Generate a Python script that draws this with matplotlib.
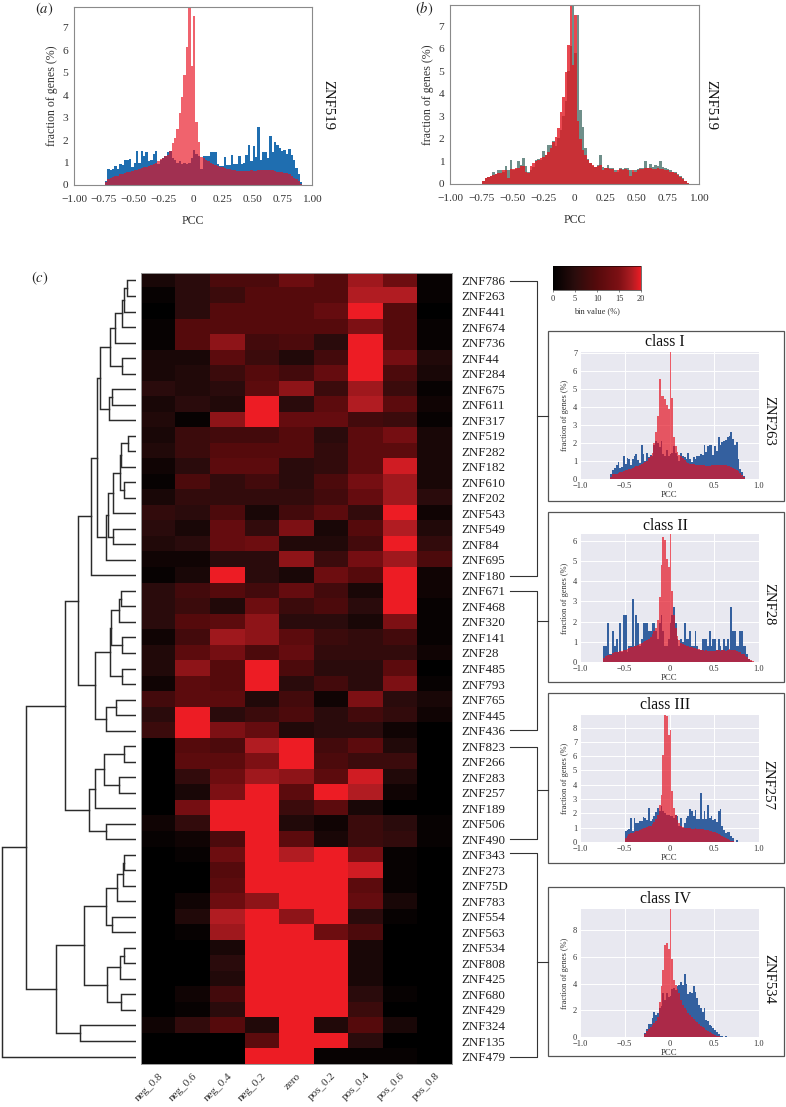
import numpy as np
import matplotlib
matplotlib.use('Agg')
import matplotlib.pyplot as plt
from matplotlib.colors import LinearSegmentedColormap
from matplotlib.patches import Rectangle

plt.rcParams['font.family'] = ['Liberation Serif', 'DejaVu Serif']
plt.rcParams['mathtext.fontset'] = 'stix'

W, H = 786, 1107
BIN = 0.02

genes = ['ZNF786', 'ZNF263', 'ZNF441', 'ZNF674', 'ZNF736', 'ZNF44', 'ZNF284', 'ZNF675', 'ZNF611', 'ZNF317',
         'ZNF519', 'ZNF282', 'ZNF182', 'ZNF610', 'ZNF202', 'ZNF543', 'ZNF549', 'ZNF84', 'ZNF695', 'ZNF180',
         'ZNF671', 'ZNF468', 'ZNF320', 'ZNF141', 'ZNF28', 'ZNF485', 'ZNF793', 'ZNF765', 'ZNF445', 'ZNF436',
         'ZNF823', 'ZNF266', 'ZNF283', 'ZNF257', 'ZNF189', 'ZNF506', 'ZNF490', 'ZNF343', 'ZNF273', 'ZNF75D',
         'ZNF783', 'ZNF554', 'ZNF563', 'ZNF534', 'ZNF808', 'ZNF425', 'ZNF680', 'ZNF429', 'ZNF324', 'ZNF135',
         'ZNF479']
bins = ['neg_0.8', 'neg_0.6', 'neg_0.4', 'neg_0.2', 'zero', 'pos_0.2', 'pos_0.4', 'pos_0.6', 'pos_0.8']

heat = [
    [3, 5, 9, 9, 13, 10, 17, 13, 1],
    [1, 5, 7, 10, 10, 10, 18, 18, 1],
    [0, 5, 10, 10, 10, 12, 20, 10, 0],
    [1, 10, 10, 10, 10, 10, 15, 10, 1],
    [1, 10, 16, 8, 9, 5, 20, 10, 1],
    [3, 3, 11, 7, 4, 8, 20, 14, 4],
    [3, 4, 7, 10, 8, 12, 20, 9, 3],
    [5, 4, 5, 11, 16, 7, 17, 7, 1],
    [3, 5, 4, 20, 5, 11, 18, 11, 2],
    [4, 1, 16, 20, 12, 12, 8, 7, 1],
    [3, 7, 8, 8, 10, 5, 11, 14, 3],
    [4, 7, 10, 10, 10, 6, 11, 11, 3],
    [2, 5, 11, 11, 5, 6, 11, 19, 3],
    [1, 9, 6, 8, 5, 9, 14, 17, 3],
    [3, 6, 6, 6, 6, 8, 12, 17, 5],
    [6, 5, 9, 3, 8, 11, 6, 20, 2],
    [5, 3, 12, 6, 15, 3, 10, 18, 4],
    [4, 5, 12, 13, 4, 4, 8, 20, 6],
    [2, 2, 5, 5, 16, 7, 14, 17, 9],
    [1, 3, 20, 5, 3, 13, 10, 20, 2],
    [5, 8, 10, 8, 12, 8, 3, 20, 2],
    [5, 7, 4, 13, 7, 9, 5, 20, 1],
    [5, 10, 11, 16, 5, 5, 3, 15, 1],
    [2, 8, 17, 16, 11, 7, 6, 8, 1],
    [4, 11, 14, 9, 12, 6, 6, 6, 2],
    [4, 16, 10, 20, 9, 5, 5, 11, 0],
    [2, 11, 10, 20, 5, 8, 5, 15, 1],
    [8, 11, 11, 4, 8, 2, 15, 5, 3],
    [5, 20, 5, 7, 9, 5, 8, 6, 2],
    [7, 20, 15, 12, 4, 5, 5, 2, 0],
    [0, 10, 9, 18, 20, 8, 11, 4, 0],
    [0, 11, 11, 15, 20, 9, 7, 7, 0],
    [0, 6, 13, 17, 16, 11, 19, 4, 0],
    [0, 3, 15, 20, 11, 20, 18, 2, 0],
    [0, 14, 20, 20, 7, 11, 3, 0, 0],
    [2, 6, 20, 20, 4, 2, 7, 5, 1],
    [1, 2, 9, 20, 11, 3, 7, 6, 1],
    [0, 1, 13, 20, 18, 20, 14, 1, 0],
    [0, 0, 10, 20, 20, 20, 19, 1, 0],
    [0, 0, 11, 20, 20, 20, 11, 1, 0],
    [0, 2, 13, 16, 20, 20, 12, 3, 0],
    [0, 4, 18, 20, 16, 20, 5, 1, 0],
    [0, 1, 17, 20, 20, 13, 9, 0, 0],
    [0, 0, 3, 20, 20, 20, 3, 0, 0],
    [0, 0, 5, 20, 20, 20, 3, 0, 0],
    [0, 0, 4, 20, 20, 20, 3, 0, 0],
    [0, 2, 8, 20, 20, 20, 5, 1, 0],
    [0, 1, 5, 20, 20, 20, 7, 0, 0],
    [2, 6, 10, 4, 20, 4, 10, 3, 0],
    [0, 0, 0, 11, 20, 20, 5, 0, 0],
    [0, 0, 0, 20, 20, 1, 1, 1, 0],
]

# dendrogram, merges as (height, upper, lower), leaves as row index
top1 = (21, (14, (12, (9, 0, 1), 2), 3), 4)
top2 = (27, (24, 7, 8), 9)
cl_a = (36, (26, top1, (14, 5, 6)), top2)
cl_b = (30, (28, (23, (16, (15, (8, 10, 11), 12), (12, 13, 14)), 15), (23, 16, 17)), 18)
cl_c = (45, (39, cl_a, cl_b), 19)
cl_d = (26, (25, (17, (15, 20, 21), 22), (14, 23, 24)), (14, 25, 26))
cl_e = (41, cl_d, (30, (20, 27, 28), 29))
cl_f = (47, (41, (32, (12, 30, 31), (17, 32, 33)), 34), (30, 35, 36))
cl_g = (30, (19, (13, (12, 37, 38), 39), 40), (24, 41, 42))
cl_h = (29, (16, (12, 43, 44), 45), (15, 46, 47))
tree = (134, (110, (71, (58, cl_c, cl_e), cl_f), (80, (52, cl_g, cl_h), (56, 48, 49))), 50)

a_start = -0.74
a_blue = [.2, .7, .65, .7, .85, .7, .95, .9, 1.1, 1.12, 1.15, .8, 1.0, 1.5, 1.0, 1.5, 1.3, 1.45, 1.05, 1.1,
          1.4, 1.5, .95, 1.1, 1.2, 1.3, 1.45, 1.5, 1.2, 1.1, 1.0, 1.05, .95, 1.0, .95, 1.0, 1.2, 1.55, 1.4, 1.3,
          .7, 1.3, 1.3, 1.3, 1.45, 1.45, 1.45, .95, .85, .85, 1.25, .9, .9, 1.35, .95, .95, 1.3, .95, 1.0, 1.35,
          1.8, 1.05, 1.75, 1.25, 2.58, 1.1, 1.45, 1.45, 1.2, 2.2, 1.45, 1.9, 1.8, 1.65, 1.5, 1.55, 1.4, 1.6, 1.35, 1.1,
          .75, .5, .15]
a_red = [.12, .25, .3, .35, .38, .42, .48, .5, .55, .58, .6, .62, .65, .68, .7, .75, .78, .82, .85, .9,
         .95, 1.0, 1.05, 1.15, 1.2, 1.3, 1.35, 1.5, 1.85, 2.1, 2.5, 3.2, 3.9, 4.9, 6.15, 8.2, 5.3, 7.5, 2.8, 1.9,
         1.25, 1.2, 1.1, 1.05, 1.0, .95, .88, .85, .82, .78, .75, .72, .7, .66, .65, .63, .62, .63, .63, .63,
         .63, .65, .63, .62, .65, .65, .65, .67, .65, .66, .65, .63, .6, .58, .57, .55, .52, .48, .42, .33,
         .25, .17, .06]

b_start = -0.74
b_grey = [.15, .25, .3, .35, .52, .45, .6, .6, .55, .8, .6, 1.05, .6, .65, 1.0, .85, 1.15, .8, .55, .6,
          .75, 1.05, 1.1, 1.05, 1.45, 1.3, 1.75, 1.75, 1.9, 1.7, 2.05, 2.4, 3.0, 3.7, 5.0, 6.1, 8.2, 5.8, 7.5, 3.3,
          2.55, 1.6, 1.1, .95, .8, .75, .85, 1.3, .75, .7, .85, .7, .7, .6, .55, .7, .65, .7, .7, .6,
          .55, .6, .65, .7, .72, 1.0, .7, .9, .75, .85, .8, 1.0, .75, .7, .65, .6, .55, .55, .45, .35,
          .25, .15, .05]
b_red = [.12, .28, .32, .36, .42, .45, .5, .5, .6, .6, .25, .65, .65, .7, .7, .8, .8, .55, .5, .8,
         .95, 1.0, 1.05, 1.15, 1.2, 1.3, 1.4, 1.6, 1.85, 2.1, 2.5, 3.2, 3.85, 4.95, 6.15, 8.2, 5.3, 7.5, 2.8, 2.0,
         1.5, 1.3, 1.05, .95, .85, .75, .8, .85, .6, .7, .7, .65, .65, .55, .6, .65, .6, .65, .62, .35,
         .6, .55, .6, .65, .68, .7, .7, .7, .68, .65, .7, .65, .65, .62, .6, .55, .55, .5, .42, .32,
         .22, .12, .04]

c1_start = -0.66
c1_blue = [.3, .5, .6, .8, .95, .6, .65, 1.25, .85, 1.15, 1.1, .75, 1.1, 1.3, 1.4, 1.05, .9, 1.9, 1.4, 1.0,
           1.45, 1.2, 1.35, 1.25, 1.9, 2.1, 2.0, 1.75, 2.1, 1.4, 1.3, 1.6, 1.3, 1.4, 1.45, 1.85, 1.45, 1.3, 1.0, 1.45,
           1.3, 1.2, 1.1, 1.45, 1.1, .95, 1.2, 1.1, 1.3, 1.25, 1.4, 1.35, 1.9, 1.5, 1.85, 1.9, 1.9, 1.35, 1.85, 1.55,
           2.3, 1.9, 2.05, 2.1, 2.15, 2.3, 2.4, 2.6, 2.2, 1.9, 2.05, 1.1, .55, .4, .15]
c1_red = [.1, .25, .3, .3, .35, .37, .4, .45, .48, .5, .55, .58, .6, .65, .7, .72, .78, .85, .9, .95,
          1.0, 1.15, 1.25, 1.45, 2.0, 2.6, 3.5, 5.55, 4.6, 4.6, 4.45, 4.1, 3.9, 7.2, 4.5, 2.3, 1.8, 1.5, 1.35, 1.25,
          1.15, 1.05, .95, .9, .85, .85, .82, .8, .8, .78, .75, .75, .75, .73, .72, .72, .75, .75, .75, .78,
          .78, .8, .8, .78, .75, .72, .7, .65, .6, .55, .5, .42, .32, .22, .12]

c2_start = -0.74
c2_blue = [.77, .77, 1.92, .38, .38, 1.54, .77, 1.15, .5, 1.92, .5, 2.3, 2.3, .5, .77, .77, 3.1, .77, 2.3, 1.92,
           .77, 1.15, 1.92, 1.92, 1.92, 1.54, 1.54, 1.92, 1.92, 1.54, 1.15, 1.92, 2.3, 1.54, .77, .77, 1.15, 1.92, 2.3, 2.7,
           1.92, 1.15, .77, 1.15, 1.0, 1.92, 1.15, 1.15, 1.54, .77, .77, 1.54, .77, .6, .6, 1.15, 1.15, 1.15, .77, 1.54,
           .77, 1.15, 1.15, .6, 1.15, .77, .6, 1.15, .77, 1.15, .6, 2.7, 1.54, 1.54, .77, .77, 1.54, 1.54, .77, .77,
           .38, .15, .05]
c2_red = [.2, .3, .35, .35, .35, .45, .5, .5, .5, .55, .55, .6, .6, .65, .7, .72, .75, .77, .8, .82,
          .88, .95, 1.0, 1.05, 1.1, 1.15, 1.25, 1.4, 1.55, 1.7, 2.1, 3.2, 4.8, 6.2, 6.05, 5.1, 4.7, 6.5, 3.5, 2.3,
          1.7, 1.3, 1.1, .95, .9, .85, .8, .78, .75, .72, .7, .7, .65, .62, .6, .6, .55, .6, .55, .55,
          .55, .55, .55, .6, .6, .55, .6, .6, .55, .6, .62, .6, .6, .58, .55, .5, .48, .42, .38, .3,
          .25, .15, .08, .03]

c3_start = -0.50
c3_blue = [.75, .85, .9, 1.65, .75, 1.65, 1.3, 1.35, 1.45, 1.5, 1.75, 1.7, 1.55, 2.4, 1.5, 1.6, 1.85, 2.1, 2.4, 2.2,
           2.5, 2.2, 2.0, 1.9, 1.9, 1.8, 1.8, 1.7, 1.9, 1.8, 1.1, 1.65, 1.0, 1.3, 1.7, 1.8, 2.3, 2.2, 1.85, 2.25,
           1.6, 1.6, 3.4, 1.6, 2.2, 1.6, 2.6, 1.65, 1.85, 1.55, 1.6, 1.4, 2.2, 2.3, 1.15, .85, .65, .7, .7, .4,
           .3, 0, .12]
c3_red = [.3, .45, .55, .6, .65, .7, .75, .8, .85, .9, .95, 1.0, 1.05, 1.1, 1.15, 1.25, 1.4, 1.6, 1.9, 2.6,
          3.3, 6.1, 8.9, 8.8, 7.5, 7.8, 3.6, 2.4, 1.9, 1.55, 1.35, 1.15, 1.05, 1.0, 1.0, .95, .95, .92, .92, .95,
          .92, .9, .9, .88, .85, .85, .82, .78, .75, .72, .68, .62, .55, .5, .42, .35, .28, .22, .15, .1,
          .05]

c4_start = -0.28
c4_blue = [.3, .6, 1.0, 1.0, 1.4, 1.9, 1.65, 1.8, 2.2, 2.3, 3.3, 2.8, 3.3, 3.0, 3.1, 3.6, 3.7, 3.5, 3.8, 3.9,
           4.1, 3.9, 4.7, 4.0, 3.2, 3.4, 3.3, 3.8, 3.4, 2.9, 2.4, 2.2, 1.9, 2.2, 1.3, 1.2, .9, .85, .7, .55,
           .35, .2, .1, .05, 0, .05]
c4_red = [.2, .45, .6, .75, .9, 1.05, 1.2, 1.5, 2.6, 3.8, 5.0, 6.9, 7.0, 6.6, 9.6, 5.8, 4.3, 3.9, 3.6, 3.3,
          2.8, 2.4, 2.2, 2.0, 1.8, 1.65, 1.5, 1.35, 1.2, 1.1, 1.0, .85, .75, .65, .55, .45, .35, .3, .2, .12,
          .08, .04]

ticks_wide = [-1, -.75, -.5, -.25, 0, .25, .5, .75, 1]
labels_wide = ['\u22121.00', '\u22120.75', '\u22120.50', '\u22120.25', '0', '0.25', '0.50', '0.75', '1.00']
ticks_narrow = [-1, -.5, 0, .5, 1]
labels_narrow = ['\u22121.0', '\u22120.5', '0', '0.5', '1.0']

TXT = '#333333'
cmap = LinearSegmentedColormap.from_list('hm', [(0, '#000000'), (.25, '#2a0c0c'), (.5, '#550a0c'),
                                                (.75, '#7d1014'), (.9, '#b01c22'), (1, '#ed1c24')])


def ax_px(x0, y0, x1, y1, **kw):
    return fig.add_axes([x0 / W, 1 - y1 / H, (x1 - x0) / W, (y1 - y0) / H], **kw)


def hist(ax, start, vals, color, alpha=1.0):
    edges = start + BIN * np.arange(len(vals))
    ax.bar(edges, vals, width=BIN, align='edge', color=color, alpha=alpha, linewidth=0)


def draw_tree(ax, node):
    # returns (height, y) of a node after drawing it
    if not isinstance(node, tuple):
        return 0, node + .5
    h, up, low = node
    h1, y1 = draw_tree(ax, up)
    h2, y2 = draw_tree(ax, low)
    ax.plot([h1, h, h, h2], [y1, y1, y2, y2], color='#2b2b2b', lw=1.05, solid_joinstyle='miter')
    return h, (y1 + y2) / 2


fig = plt.figure(figsize=(W / 100, H / 100), dpi=100)

# top panels
for box, start1, v1, start2, v2, c1, c2, al, top in [
        ((74, 7, 312, 185), a_start, a_blue, a_start, a_red, '#1f6eb0', '#e8101f', .65, 7.92),
        ((450, 5, 699, 184), b_start, b_grey, b_start, b_red, '#6f8f8a', '#e2151f', .78, 7.94)]:
    ax = ax_px(*box)
    hist(ax, start1, v1, c1)
    hist(ax, start2, v2, c2, al)
    ax.set_xlim(-1, 1)
    ax.set_ylim(0, top)
    ax.set_xticks(ticks_wide, labels_wide)
    ax.set_yticks(range(8), ['0', '1', '2', '3', '4', '5', '6', '7'])
    ax.tick_params(axis='x', length=0, labelsize=8.2, labelcolor=TXT, pad=7)
    ax.tick_params(axis='y', length=0, labelsize=8.2, labelcolor=TXT, pad=4)
    for s in ax.spines.values():
        s.set_color('#8a8a8a')
        s.set_linewidth(.8)
    ax.set_xlabel('PCC', fontsize=8.6, color=TXT, labelpad=8)
    ax.set_ylabel('fraction of genes (%)', fontsize=8.6, color=TXT, labelpad=3)

# heatmap
ax = ax_px(141, 272.7, 452, 1064.3)
im = ax.imshow(heat, cmap=cmap, vmin=0, vmax=20, aspect='auto', interpolation='nearest')
ax.yaxis.tick_right()
ax.set_yticks(range(len(genes)), genes)
ax.set_xticks(range(len(bins)), bins)
ax.tick_params(axis='y', length=0, labelsize=9.4, labelcolor='#222222', pad=7)
ax.tick_params(axis='x', length=0, labelsize=8, labelcolor=TXT, pad=5)
plt.setp(ax.get_xticklabels(), rotation=45, ha='right', rotation_mode='anchor')
for s in ax.spines.values():
    s.set_color('#999999')
    s.set_linewidth(.7)

# dendrogram shares the row scale of the heatmap
ax = ax_px(0, 272.7, 136, 1064.3)
draw_tree(ax, tree)
ax.set_xlim(136, 0)
ax.set_ylim(len(genes), 0)
ax.axis('off')

# colour bar
cax = ax_px(553, 266, 641, 290)
cb = fig.colorbar(im, cax=cax, orientation='horizontal', ticks=[0, 5, 10, 15, 20])
cb.ax.tick_params(length=1.5, width=.5, labelsize=6, labelcolor=TXT, pad=2, color='#555555')
cb.set_label('bin value (%)', fontsize=6, color=TXT, labelpad=3)
cb.outline.set_linewidth(.4)

# class insets
for box, yticks, top, start1, v1, start2, v2 in [
        ((580, 352, 759, 479), range(8), 7.03, c1_start, c1_blue, c1_start, c1_red),
        ((580, 534, 759, 662), range(7), 6.33, c2_start, c2_blue, c2_start, c2_red),
        ((580, 715, 759, 842), range(9), 8.88, c3_start, c3_blue, c3_start, c3_red),
        ((580, 909, 759, 1037), [0, 2, 4, 6, 8], 9.575, c4_start, c4_blue, c4_start, c4_red)]:
    ax = ax_px(*box, facecolor='#e8e8f0')
    ax.set_axisbelow(True)
    ax.grid(color='white', lw=.7)
    hist(ax, start1, v1, '#34609f')
    hist(ax, start2, v2, '#e4101f', .68)
    ax.set_xlim(-1, 1)
    ax.set_ylim(0, top)
    ax.set_xticks(ticks_narrow, labels_narrow)
    ax.set_yticks(list(yticks), [str(t) for t in yticks])
    ax.tick_params(length=0, labelsize=6, labelcolor=TXT, pad=2)
    for s in ax.spines.values():
        s.set_visible(False)
    ax.set_xlabel('PCC', fontsize=6.3, color=TXT, labelpad=1)
    ax.set_ylabel('fraction of genes (%)', fontsize=6, color=TXT, labelpad=3)

# frames, brackets and loose text in figure pixels
ov = ax_px(0, 0, W, H, facecolor='none')
ov.set_xlim(0, W)
ov.set_ylim(H, 0)
ov.axis('off')
for y0, y1 in [(331, 501), (512, 682), (693, 863), (887, 1056)]:
    ov.add_patch(Rectangle((547.5, y0), 236.5, y1 - y0, fill=False, ec='#555555', lw=.9))
for y0, y1, ym in [(281, 576, 416), (591, 730, 621), (747, 839, 790), (853, 1057, 962)]:
    ov.plot([510, 537, 537, 510], [y0, y0, y1, y1], color='#333333', lw=.8)
    ov.plot([537, 547.5], [ym, ym], color='#333333', lw=.8)
for name, y in [('class I', 342), ('class II', 526), ('class III', 705), ('class IV', 899)]:
    ov.text(665, y, name, fontsize=11.3, ha='center', va='center', color='#111111')
for name, x, y, size in [('ZNF519', 328, 105, 10.6), ('ZNF519', 711, 105, 10.6), ('ZNF263', 769, 421, 10.6),
                         ('ZNF28', 769, 604, 10.6), ('ZNF257', 768, 785, 10.6), ('ZNF534', 769, 979, 10.6)]:
    ov.text(x, y, name, fontsize=size, rotation=-90, ha='center', va='center', color='#111111')
for name, x, y in [('$(a)$', 44, 9), ('$(b)$', 424, 9), ('$(c)$', 40, 278)]:
    ov.text(x, y, name, fontsize=10.5, ha='center', va='center', color='#222222')

fig.savefig('out.png', dpi=100)
